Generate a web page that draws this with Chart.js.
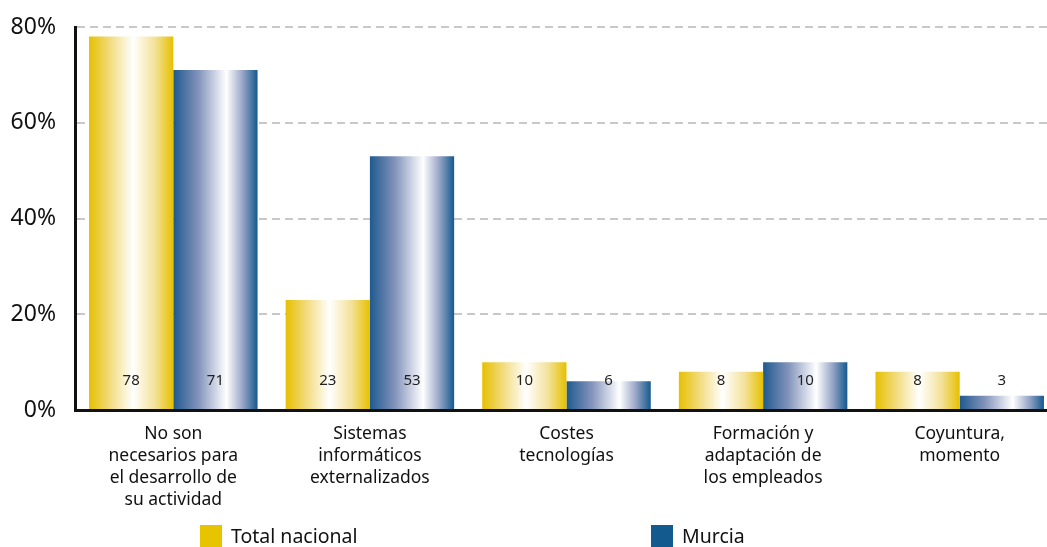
<!DOCTYPE html>
<html>
<head>
<meta charset="utf-8">
<script src="https://cdn.jsdelivr.net/npm/chart.js@4"></script>
<style>
    html, body { margin: 0; padding: 0; background: #fff; overflow: hidden; }
    #wrap { position: relative; width: 1058px; height: 547px; }
</style>
</head>
<body>
<div id="wrap"><canvas id="chart"></canvas></div>
<script>
const CATEGORIES = [
    ['No son', 'necesarios para', 'el desarrollo de', 'su actividad'],
    ['Sistemas', 'informáticos', 'externalizados'],
    ['Costes', 'tecnologías'],
    ['Formación y', 'adaptación de', 'los empleados'],
    ['Coyuntura,', 'momento']
];
const TOTAL_NACIONAL = [78, 23, 10, 8, 8];
const MURCIA = [71, 53, 6, 10, 3];
const SERIES_LABELS = ['Total nacional', 'Murcia'];
const Y_TICKS = [0, 20, 40, 60, 80];

const FONT = "'Noto Sans', sans-serif";
const YELLOW = '#e8c300';
const BLUE = '#135b8f';

// gradient stops for the "cylinder" look of each bar
const GRADIENTS = [
    [[0, '#e6c000'], [0.22, '#f0d870'], [0.52, '#ffffff'], [0.78, '#f3e29a'], [1, '#e6c000']],
    [[0, '#1f5a8f'], [0.3, '#8393bb'], [0.63, '#ffffff'], [0.82, '#9aa7c8'], [1, '#15598e']]
];

const barGradient = {
    id: 'barGradient',
    beforeDatasetsDraw(chart) {
        const ctx = chart.ctx;
        chart.data.datasets.forEach((ds, i) => {
            const meta = chart.getDatasetMeta(i);
            meta.data.forEach(el => {
                const g = ctx.createLinearGradient(el.x - el.width / 2, 0, el.x + el.width / 2, 0);
                GRADIENTS[i].forEach(s => g.addColorStop(s[0], s[1]));
                el.options = Object.assign({}, el.options, { backgroundColor: g });
            });
        });
    }
};

const valueLabels = {
    id: 'valueLabels',
    afterDatasetsDraw(chart) {
        const ctx = chart.ctx;
        const base = chart.scales.y.getPixelForValue(0);
        ctx.save();
        ctx.font = '15px ' + FONT;
        ctx.fillStyle = '#222';
        ctx.textAlign = 'center';
        ctx.textBaseline = 'middle';
        chart.data.datasets.forEach((ds, i) => {
            chart.getDatasetMeta(i).data.forEach((el, j) => {
                ctx.fillText(String(ds.data[j]), el.x, base - 29);
            });
        });
        ctx.restore();
    }
};

// legend drawn at fixed spots like the original layout
const bottomLegend = {
    id: 'bottomLegend',
    afterDraw(chart) {
        const ctx = chart.ctx;
        const spots = [200, 651];
        ctx.save();
        ctx.font = '19.5px ' + FONT;
        ctx.textBaseline = 'middle';
        chart.data.datasets.forEach((ds, i) => {
            const x = spots[i];
            ctx.fillStyle = ds.legendColor;
            ctx.fillRect(x, 525, 22, 22);
            ctx.fillStyle = '#111';
            ctx.fillText(ds.label, x + 31, 537);
        });
        ctx.restore();
    }
};

new Chart(document.getElementById('chart'), {
    type: 'bar',
    data: {
        labels: CATEGORIES,
        datasets: [
            { label: SERIES_LABELS[0], data: TOTAL_NACIONAL, backgroundColor: YELLOW, legendColor: YELLOW,
              barPercentage: 1, categoryPercentage: 0.857 },
            { label: SERIES_LABELS[1], data: MURCIA, backgroundColor: BLUE, legendColor: BLUE,
              barPercentage: 1, categoryPercentage: 0.857 }
        ]
    },
    options: {
        responsive: true,
        maintainAspectRatio: false,
        animation: false,
        layout: { padding: { top: 27, right: 0, left: 0, bottom: 0 } },
        plugins: {
            legend: { display: false },
            tooltip: { enabled: false }
        },
        scales: {
            x: {
                grid: { display: false },
                border: { display: true, color: '#111', width: 3 },
                ticks: {
                    color: '#111',
                    padding: 5,
                    maxRotation: 0,
                    autoSkip: false,
                    font: { size: 17.5, family: FONT, lineHeight: 1.26 }
                },
                afterFit(scale) { scale.height = 137; }
            },
            y: {
                min: 0,
                max: 80,
                afterBuildTicks(scale) { scale.ticks = Y_TICKS.map(v => ({ value: v })); },
                grid: { color: '#c8c8c8', lineWidth: 2, drawTicks: false },
                border: { display: true, color: '#111', width: 3, dash: [8, 5] },
                ticks: {
                    color: '#111',
                    padding: 19,
                    font: { size: 23, family: FONT },
                    callback: v => v + '%'
                },
                afterFit(scale) {
                    scale.width = 75;
                    scale.paddingTop = 0;
                    scale.paddingBottom = 0;
                }
            }
        }
    },
    plugins: [barGradient, valueLabels, bottomLegend]
});
</script>
</body>
</html>
